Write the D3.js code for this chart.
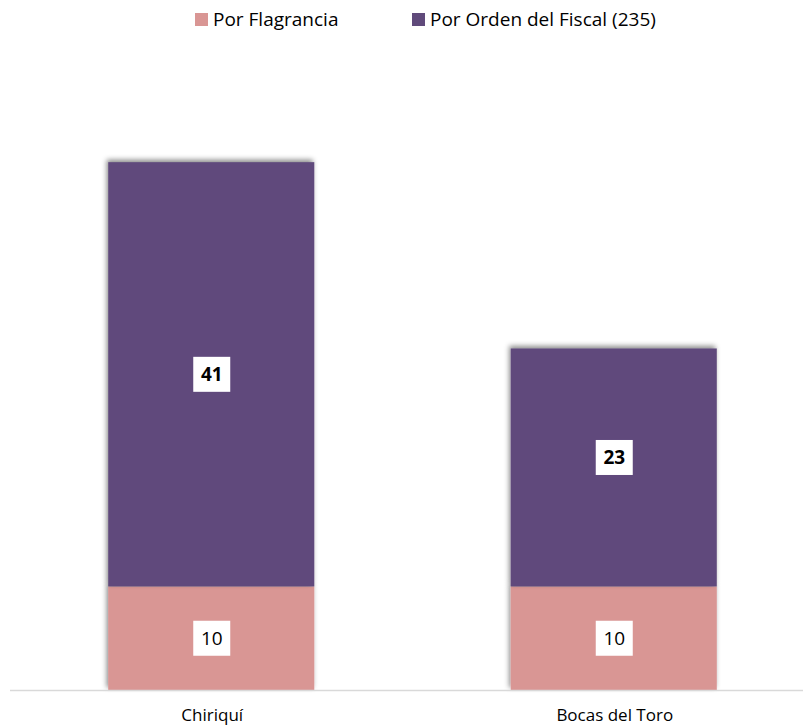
<!DOCTYPE html>
<html>
<head>
<meta charset="utf-8">
<script src="https://cdn.jsdelivr.net/npm/d3@7"></script>
<style>
  html, body { margin: 0; padding: 0; background: #fff; }
  svg { display: block; font-family: "Open Sans", "Noto Sans", sans-serif; }
</style>
</head>
<body>
<svg id="chart" width="803" height="727"></svg>
<script>
// ── Data ──────────────────────────────────────────────────────────────────────
const categories  = ['Chiriquí', 'Bocas del Toro'];
const seriesNames = ['Por Flagrancia', 'Por Orden del Fiscal (235)'];
const flagrancia  = [10, 10];
const ordenFiscal = [41, 23];

const COLORS = ['#D99694', '#604A7B'];

// ── Layout ────────────────────────────────────────────────────────────────────
const W = 803, H = 727;
const svg = d3.select('#chart');

const x = d3.scaleBand()
  .domain(categories)
  .range([10, 815])
  .paddingInner(0.488)
  .paddingOuter(0.244);

const y = d3.scaleLinear()
  .domain([0, 60])
  .range([690, 69]);

// shadow filter
const defs = svg.append('defs');
const f = defs.append('filter').attr('id', 'shadow')
  .attr('x', '-10%').attr('y', '-10%').attr('width', '120%').attr('height', '120%');
f.append('feDropShadow')
  .attr('dx', -1.5).attr('dy', -2.5)
  .attr('stdDeviation', 2.5)
  .attr('flood-color', '#000')
  .attr('flood-opacity', 0.45);

const rows = categories.map((c, i) => ({ cat: c, vals: [flagrancia[i], ordenFiscal[i]] }));
const stack = d3.stack().keys([0, 1]).value((d, k) => d.vals[k]);
const layers = stack(rows);

// ── Bars ──────────────────────────────────────────────────────────────────────
const barG = svg.append('g');
layers.forEach((layer, k) => {
  barG.selectAll(null)
    .data(layer)
    .join('rect')
    .attr('x', d => x(d.data.cat))
    .attr('y', d => y(d[1]))
    .attr('width', x.bandwidth())
    .attr('height', d => y(d[0]) - y(d[1]))
    .attr('fill', COLORS[k])
    .attr('filter', 'url(#shadow)');
});

// baseline
svg.append('line')
  .attr('x1', 10).attr('x2', W)
  .attr('y1', y(0) + 0.5).attr('y2', y(0) + 0.5)
  .attr('stroke', '#d9d9d9').attr('stroke-width', 1.5);

// ── Data labels ───────────────────────────────────────────────────────────────
// label nudges (px), as placed in the original
const labelShift = [[0, 0], [0, -10]];
layers.forEach((layer, k) => {
  layer.forEach((d, i) => {
    const cx = x(d.data.cat) + x.bandwidth() / 2;
    const cy = (y(d[0]) + y(d[1])) / 2 + labelShift[k][i];
    const g = svg.append('g');
    g.append('rect')
      .attr('x', cx - 18).attr('y', cy - 17.5)
      .attr('width', 37).attr('height', 35)
      .attr('fill', '#fff');
    g.append('text')
      .attr('x', cx + 0.5).attr('y', cy + 7)
      .attr('text-anchor', 'middle')
      .attr('font-size', 19)
      .attr('font-weight', k === 1 ? 'bold' : 'normal')
      .attr('fill', '#000')
      .text(d[1] - d[0]);
  });
});

// ── Category axis labels ──────────────────────────────────────────────────────
svg.append('g').selectAll('text')
  .data(categories)
  .join('text')
  .attr('x', d => x(d) + x.bandwidth() / 2 + 1)
  .attr('y', 721)
  .attr('text-anchor', 'middle')
  .attr('font-size', 17)
  .attr('fill', '#000')
  .text(d => d);

// ── Legend ────────────────────────────────────────────────────────────────────
const legendX = [195, 412];
const legend = svg.append('g');
seriesNames.forEach((name, i) => {
  legend.append('rect')
    .attr('x', legendX[i]).attr('y', 13)
    .attr('width', 13).attr('height', 13)
    .attr('fill', COLORS[i]);
  legend.append('text')
    .attr('x', legendX[i] + 18).attr('y', 26)
    .attr('font-size', 19)
    .attr('fill', '#000')
    .text(name);
});
</script>
</body>
</html>
